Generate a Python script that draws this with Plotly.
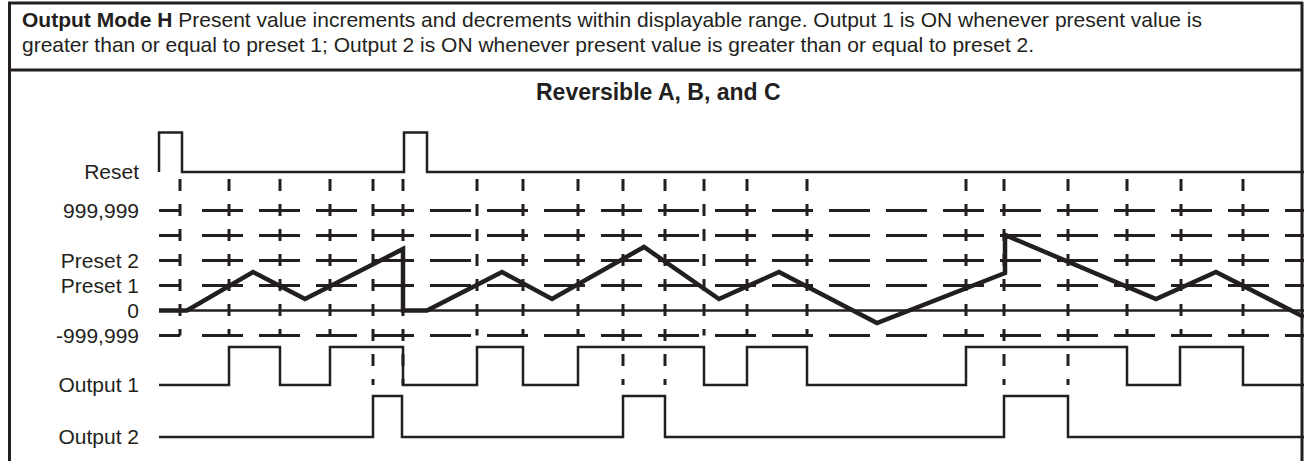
import plotly.graph_objects as go

# ---------------- data ----------------
# row labels on the left and the level each one sits at
row_labels = ["Reset", "999,999", "Preset 2", "Preset 1", "0", "-999,999", "Output 1", "Output 2"]
row_levels = [5.54, 4.0, 2.0, 1.0, 0.0, -1.0, -2.98, -5.06]

# dashed reference levels of the present-value band
grid_levels = [4.0, 3.0, 2.0, 1.0, -1.0]
zero_level = 0.0

# digital signal low / high levels
reset_low, reset_high = 5.54, 7.12
out1_low, out1_high = -2.98, -1.46
out2_low, out2_high = -5.06, -3.42

# time span of the diagram (arbitrary time units)
t_start, t_end = 159, 1304

# pulses (start, end)
reset_pulses = [(159, 182), (404, 427)]
out1_pulses = [(229, 280), (330, 403), (477, 523), (578, 704), (747, 807), (966, 1127), (1180, 1243)]
out2_pulses = [(373, 402), (623, 665), (1004, 1068)]

# present value waveform
pv_time = [159, 187, 253, 305, 403, 403, 427, 502, 552, 644, 719, 779, 877, 1005, 1005, 1156, 1216, 1304]
pv_value = [0, 0, 1.54, 0.46, 2.46, 0, 0, 1.54, 0.46, 2.54, 0.46, 1.54, -0.5, 1.5, 3.02, 0.46, 1.54, -0.26]

# event markers (vertical dashed lines)
event_times = [180, 229, 280, 330, 477, 523, 578, 704, 747, 807, 966, 1127, 1181, 1243]
long_event_times = [373, 403, 623, 665, 1004, 1068]
event_top = 5.26
event_bottom = -1.0

header_line1 = "<b>Output Mode H</b> Present value increments and decrements within displayable range. Output 1 is ON whenever present value is"
header_line2 = "greater than or equal to preset 1; Output 2 is ON whenever present value is greater than or equal to preset 2."
title_text = "<b>Reversible A, B, and C</b>"

# ---------------- figure ----------------
W, H = 1304, 461
ML = 150
INK = "#231f20"
FONT = "Liberation Sans, Arial, sans-serif"


def digital(pulses, low, high):
    xs, ys = [t_start], [low]
    for a, b in pulses:
        xs += [a, a, b, b]
        ys += [low, high, high, low]
    xs.append(t_end)
    ys.append(low)
    return xs, ys


fig = go.Figure()

# dashed horizontal reference lines
hdash = "21px,22px," + ",".join(["41px,16px"] * 24)
for lv in grid_levels:
    fig.add_trace(go.Scatter(x=[t_start, t_end], y=[lv, lv], mode="lines",
                             line=dict(color=INK, width=3, dash=hdash),
                             hoverinfo="skip", showlegend=False))

# vertical event lines
for t in event_times:
    fig.add_trace(go.Scatter(x=[t, t], y=[event_top, event_bottom], mode="lines",
                             line=dict(color=INK, width=3, dash="12px,13px"),
                             hoverinfo="skip", showlegend=False))
for t in long_event_times:
    fig.add_trace(go.Scatter(x=[t, t], y=[event_top, out1_low], mode="lines",
                             line=dict(color=INK, width=3, dash="12px,13px"),
                             hoverinfo="skip", showlegend=False))

# zero line
fig.add_trace(go.Scatter(x=[t_start, t_end], y=[zero_level, zero_level], mode="lines",
                         line=dict(color=INK, width=2.5), hoverinfo="skip", showlegend=False))

# digital signals
for pulses, lo, hi in [(reset_pulses, reset_low, reset_high),
                       (out1_pulses, out1_low, out1_high),
                       (out2_pulses, out2_low, out2_high)]:
    xs, ys = digital(pulses, lo, hi)
    fig.add_trace(go.Scatter(x=xs, y=ys, mode="lines",
                             line=dict(color=INK, width=2.5, shape="linear"),
                             hoverinfo="skip", showlegend=False))

# present value
fig.add_trace(go.Scatter(x=pv_time, y=pv_value, mode="lines",
                         line=dict(color=INK, width=4.5),
                         hoverinfo="skip", showlegend=False))


def px_x(px):
    return (px - ML) / (W - ML)


def px_y(py):
    return 1 - py / H


frame = dict(color=INK, width=3)
shapes = [
    dict(type="line", xref="paper", yref="paper", x0=px_x(8), x1=px_x(1303), y0=px_y(3), y1=px_y(3), line=frame),
    dict(type="line", xref="paper", yref="paper", x0=px_x(8), x1=px_x(1303), y0=px_y(70), y1=px_y(70), line=frame),
    dict(type="line", xref="paper", yref="paper", x0=px_x(9.5), x1=px_x(9.5), y0=px_y(2), y1=px_y(470), line=frame),
    dict(type="line", xref="paper", yref="paper", x0=px_x(1302), x1=px_x(1302), y0=px_y(2), y1=px_y(470), line=frame),
]

annotations = [
    dict(text=header_line1, xref="paper", yref="paper", x=px_x(20), y=px_y(19.5),
         xanchor="left", yanchor="middle", showarrow=False, align="left",
         font=dict(family=FONT, size=21, color=INK)),
    dict(text=header_line2, xref="paper", yref="paper", x=px_x(20), y=px_y(44.5),
         xanchor="left", yanchor="middle", showarrow=False, align="left",
         font=dict(family=FONT, size=21, color=INK)),
    dict(text=title_text, xref="paper", yref="paper", x=px_x(658), y=px_y(92),
         xanchor="center", yanchor="middle", showarrow=False,
         font=dict(family=FONT, size=23, color=INK)),
]

fig.update_layout(
    width=W, height=H,
    margin=dict(l=ML, r=0, t=0, b=0),
    paper_bgcolor="white", plot_bgcolor="white",
    shapes=shapes, annotations=annotations,
    showlegend=False,
    xaxis=dict(range=[ML, W], visible=False, fixedrange=True),
    yaxis=dict(range=[(310.5 - H) / 25, 310.5 / 25], tickvals=row_levels, ticktext=row_labels,
               showgrid=False, zeroline=False, showline=False, ticks="",
               ticklabelstandoff=10,
               tickfont=dict(family=FONT, size=21, color=INK), fixedrange=True),
)

fig.write_html("out.html", config={"displayModeBar": False},
               post_script="document.body.style.margin='0';document.body.style.overflow='hidden';")
